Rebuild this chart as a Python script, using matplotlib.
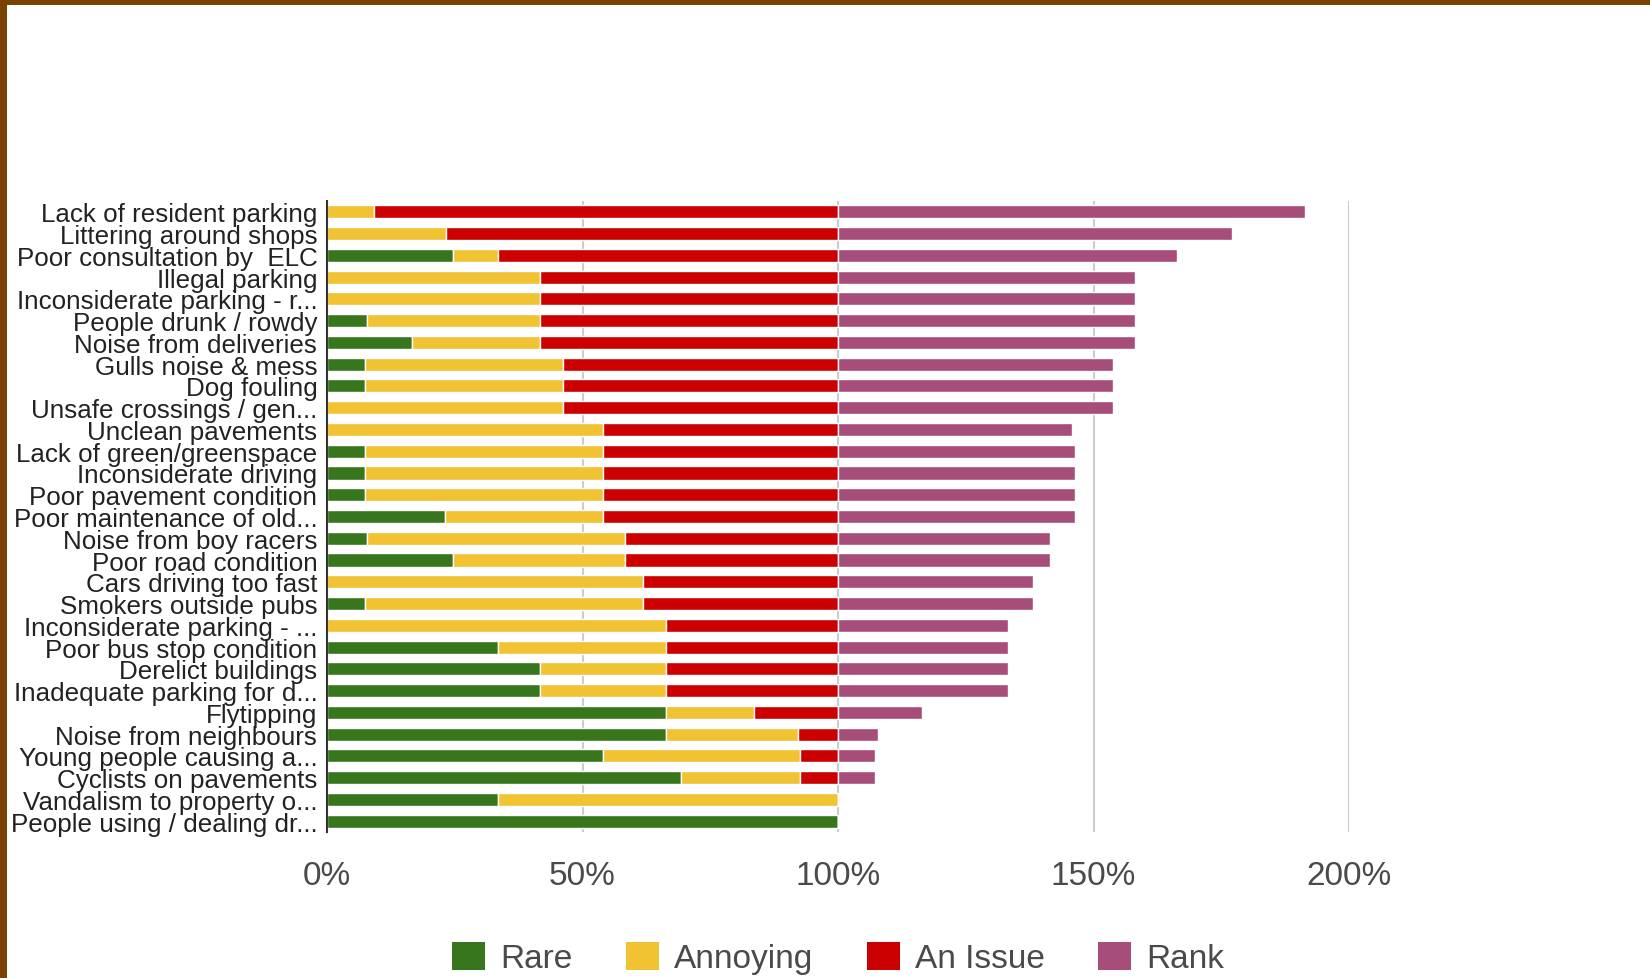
import numpy as np
import matplotlib
matplotlib.use("Agg")
import matplotlib.pyplot as plt
from matplotlib.patches import Rectangle, Patch

labels = [
    "Lack of resident parking", "Littering around shops", "Poor consultation by  ELC",
    "Illegal parking", "Inconsiderate parking - r...", "People drunk / rowdy",
    "Noise from deliveries", "Gulls noise & mess", "Dog fouling",
    "Unsafe crossings / gen...", "Unclean pavements", "Lack of green/greenspace",
    "Inconsiderate driving", "Poor pavement condition", "Poor maintenance of old...",
    "Noise from boy racers", "Poor road condition", "Cars driving too fast",
    "Smokers outside pubs", "Inconsiderate parking - ...", "Poor bus stop condition",
    "Derelict buildings", "Inadequate parking for d...", "Flytipping",
    "Noise from neighbours", "Young people causing a...", "Cyclists on pavements",
    "Vandalism to property o...", "People using / dealing dr...",
]

# percentages
rare = [0, 0, 24.7, 0, 0, 7.9, 16.7, 7.4, 7.4, 0, 0, 7.4, 7.4, 7.4, 23.1,
        7.8, 24.7, 0, 7.4, 0, 33.4, 41.6, 41.6, 66.4, 66.4, 54.0, 69.3, 33.4, 100]
annoying = [9.1, 23.2, 8.7, 41.6, 41.6, 33.7, 24.9, 38.8, 38.8, 46.2, 54.0, 46.6,
            46.6, 46.6, 30.9, 50.6, 33.7, 61.9, 54.5, 66.4, 33.0, 24.8, 24.8, 17.1,
            25.8, 38.6, 23.3, 66.6, 0]
an_issue = [90.9, 76.8, 66.6, 58.4, 58.4, 58.4, 58.4, 53.8, 53.8, 53.8, 46.0, 46.0,
            46.0, 46.0, 46.0, 41.6, 41.6, 38.1, 38.1, 33.6, 33.6, 33.6, 33.6, 16.5,
            7.8, 7.4, 7.4, 0, 0]
rank = [91.3, 77.1, 66.4, 58.1, 58.1, 58.1, 58.1, 53.8, 53.8, 53.8, 45.8, 46.4,
        46.4, 46.4, 46.4, 41.4, 41.4, 38.1, 38.1, 33.2, 33.2, 33.2, 33.2, 16.5,
        7.8, 7.2, 7.2, 0, 0]

series = [("Rare", rare, "#38761d"), ("Annoying", annoying, "#f1c232"),
          ("An Issue", an_issue, "#cc0000"), ("Rank", rank, "#a64d79")]

plt.rcParams["font.family"] = ["Liberation Sans", "DejaVu Sans"]

W, H = 1650, 979
fig = plt.figure(figsize=(W / 100, H / 100), dpi=100)
ax = fig.add_axes([327 / W, (H - 833) / H, 1022 / W, 631 / H])

y = np.arange(len(labels))
left = np.zeros(len(labels))
for name, vals, col in series:
    v = np.array(vals) / 100.0
    ax.barh(y, v, left=left, height=0.6, color=col, edgecolor="white",
            linewidth=1.0, zorder=3)
    left += v

ax.set_xlim(0, 2.0)
ax.set_ylim(len(labels) - 0.5, -0.5)
ax.set_xticks([0, 0.5, 1.0, 1.5, 2.0])
ax.set_xticklabels(["0%", "50%", "100%", "150%", "200%"])
ax.set_yticks(y)
ax.set_yticklabels(labels)
ax.grid(axis="x", color="#cccccc", linewidth=1.5, zorder=0)
ax.tick_params(axis="x", length=0, pad=20, labelsize=24, labelcolor="#4a4a4a")
ax.tick_params(axis="y", length=0, pad=7, labelsize=18.7, labelcolor="#222222")
for s in ["top", "right", "bottom"]:
    ax.spines[s].set_visible(False)
ax.spines["left"].set_color("#333333")
ax.spines["left"].set_linewidth(1.5)
ax.spines["left"].set_zorder(4)

handles = [Patch(facecolor=c, edgecolor="none", label=n) for n, _, c in series]
fig.legend(handles=handles, loc="center", bbox_to_anchor=(838 / W, 20 / H),
           ncol=4, frameon=False, fontsize=24, handlelength=1.0, handleheight=0.95,
           handletextpad=0.45, columnspacing=1.6, labelcolor="#4a4a4a")

# brown frame on the top and left edges
fig.patches.append(Rectangle((0, 1 - 6 / H), 1, 6 / H, transform=fig.transFigure,
                             facecolor="#7a4200", edgecolor="none", zorder=10))
fig.patches.append(Rectangle((0, 0), 7 / W, 1, transform=fig.transFigure,
                             facecolor="#7a4200", edgecolor="none", zorder=10))

fig.savefig("out.png", dpi=100)
